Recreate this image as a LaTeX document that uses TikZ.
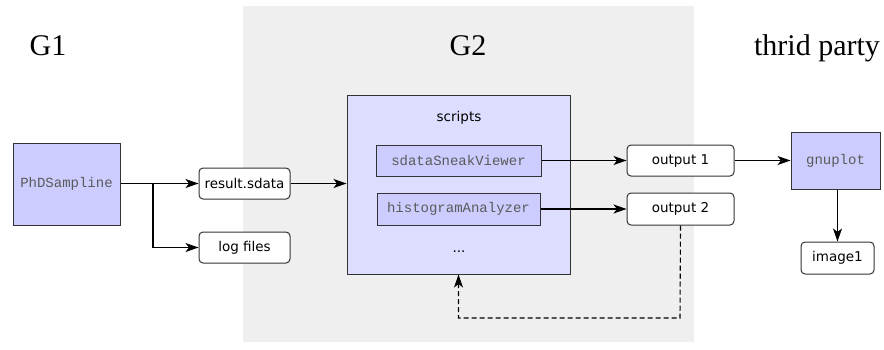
\documentclass[tikz,border=0pt]{standalone}
\usepackage{fontspec}
\setmainfont{Liberation Serif}
\setsansfont{DejaVu Sans}
\setmonofont{Liberation Mono}
\usetikzlibrary{arrows.meta}
\definecolor{grpbg}{HTML}{EFEFEF}
\definecolor{progfill}{HTML}{CCCCFF}
\definecolor{scriptfill}{HTML}{DDDDFF}
\definecolor{edgecol}{HTML}{333333}
\definecolor{codetext}{HTML}{5A5A5A}
\tikzset{
  x=1pt, y=-1pt,
  tip/.style={-{Stealth[length=13pt,width=9pt,inset=3.5pt]}},
  link/.style={draw=black, line width=1.1pt, tip},
  feedback/.style={link, dashed, dash pattern=on 5pt off 3pt},
  progbox/.style={draw=edgecol, line width=1pt, fill=progfill, inner sep=0pt,
    font=\fontsize{14}{16}\selectfont\ttfamily, text=codetext},
  filebox/.style={draw=edgecol, line width=1pt, fill=white, rounded corners=4pt,
    inner sep=0pt, font=\fontsize{13.5}{16}\sffamily},
  grouplabel/.style={anchor=base, font=\fontsize{30}{34}\selectfont},
}
\begin{document}
\begin{tikzpicture}
  \useasboundingbox (0,0) rectangle (884,349);
  % group G2 background
  \fill[grpbg] (243,6) rectangle (694,342);

  % group titles
  \node[grouplabel] (g1) at (48,55) {G1};
  \node[grouplabel] (g2) at (468,55) {G2};
  \node[grouplabel] (g3) at (817,55) {thrid party};

  % G1
  \node[progbox, minimum width=107pt, minimum height=82pt] (phd) at (66.5,184) {PhDSampline};
  \node[filebox, minimum width=91pt, minimum height=31pt] (result) at (244.5,183.5) {result.sdata};
  \node[filebox, minimum width=91pt, minimum height=31pt] (logs) at (244.5,247.5) {log files};

  % G2
  \node[draw=edgecol, line width=1pt, fill=scriptfill, minimum width=223pt,
        minimum height=179pt, inner sep=0pt] (scripts) at (458.5,184.5) {};
  \node[font=\fontsize{13.5}{16}\sffamily] (scriptstitle) at (459,118) {scripts};
  \node[progbox, minimum width=165pt, minimum height=31pt] (viewer) at (458.5,160.5) {sdataSneakViewer};
  \node[progbox, minimum width=163pt, minimum height=32pt] (hist) at (458.5,209) {histogramAnalyzer};
  \node[font=\fontsize{13.5}{16}\sffamily] (dots) at (459,252) {...};
  \node[filebox, minimum width=107pt, minimum height=31pt] (out1) at (680.5,160.5) {output 1};
  \node[filebox, minimum width=107pt, minimum height=32pt] (out2) at (680.5,209) {output 2};

  % third party
  \node[progbox, minimum width=89pt, minimum height=57pt] (gnuplot) at (835.5,160.5) {gnuplot};
  \node[filebox, minimum width=73pt, minimum height=32pt] (img) at (837.5,258) {image1};

  % connectors
  \coordinate (split) at (153,183.5);
  \draw[link] (phd.east |- result) -- (result.west);
  \draw[link] (split) |- (logs.west);
  \draw[link] (result.east) -- (scripts.west |- result);
  \draw[link] (viewer.east) -- (out1.west);
  \draw[link] (hist.east) -- (out2.west);
  \draw[link] (out1.east) -- (gnuplot.west |- out1);
  \draw[link] (gnuplot.south -| img) -- (img.north);
  \coordinate (loop) at (680,318);
  \draw[feedback] (out2.south) -- (loop) -| (scripts.south);
\end{tikzpicture}
\end{document}
